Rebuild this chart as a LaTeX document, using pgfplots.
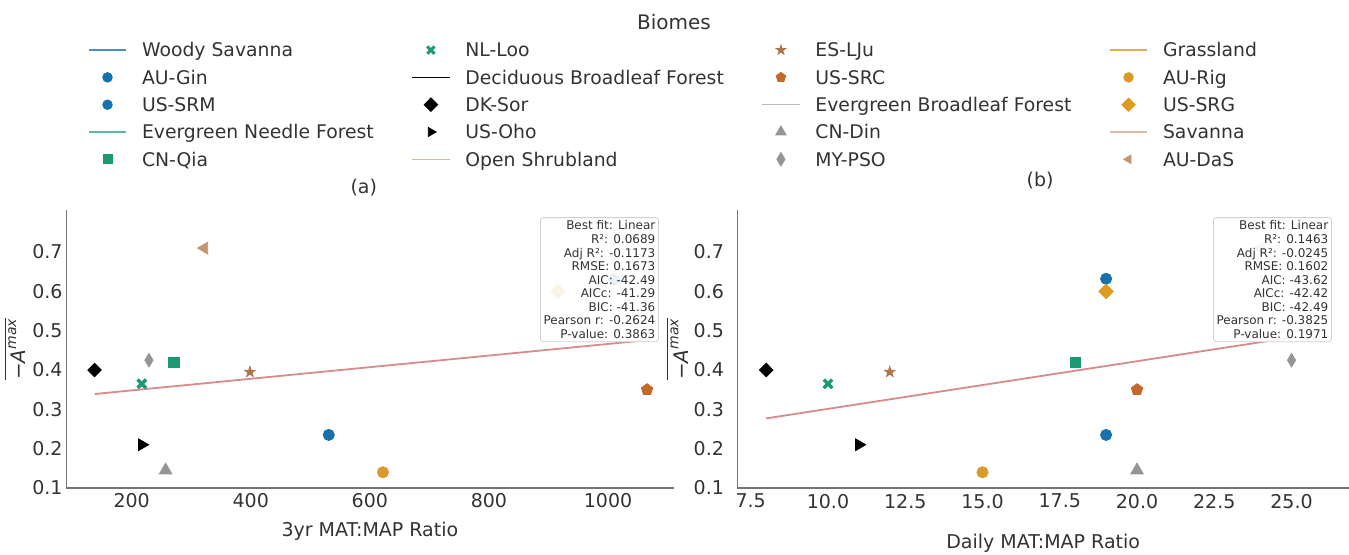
\documentclass[border=0pt]{standalone}
\usepackage{fontspec}
\setmainfont{DejaVu Sans}
\usepackage{pgfplots}
\pgfplotsset{compat=1.18}

\definecolor{cblue}{HTML}{1771AE}
\definecolor{cgreen}{HTML}{1A9A72}
\definecolor{cgray}{HTML}{959595}
\definecolor{cgold}{HTML}{D99A2B}
\definecolor{cgoldd}{HTML}{DE9A1C}
\definecolor{cbrown}{HTML}{C4692B}
\definecolor{cstar}{HTML}{B07348}
\definecolor{ctan}{HTML}{C39672}
\definecolor{fitc}{HTML}{D98A8C}
\definecolor{lblue}{HTML}{4A8FC0}
\definecolor{lgreen}{HTML}{5DB8A0}
\definecolor{lshrub}{HTML}{D6B994}
\definecolor{lgray}{HTML}{BBBBBB}
\definecolor{lgold}{HTML}{E3AE52}
\definecolor{lsav}{HTML}{DDBCA8}
\definecolor{txt}{HTML}{333333}

\pgfdeclareplotmark{fstar}{%
  \pgfpathmoveto{\pgfpointpolar{90}{\pgfplotmarksize}}%
  \pgfpathlineto{\pgfpointpolar{126}{0.382\pgfplotmarksize}}%
  \pgfpathlineto{\pgfpointpolar{162}{\pgfplotmarksize}}%
  \pgfpathlineto{\pgfpointpolar{198}{0.382\pgfplotmarksize}}%
  \pgfpathlineto{\pgfpointpolar{234}{\pgfplotmarksize}}%
  \pgfpathlineto{\pgfpointpolar{270}{0.382\pgfplotmarksize}}%
  \pgfpathlineto{\pgfpointpolar{306}{\pgfplotmarksize}}%
  \pgfpathlineto{\pgfpointpolar{342}{0.382\pgfplotmarksize}}%
  \pgfpathlineto{\pgfpointpolar{18}{\pgfplotmarksize}}%
  \pgfpathlineto{\pgfpointpolar{54}{0.382\pgfplotmarksize}}%
  \pgfpathclose\pgfusepathqfillstroke}

\tikzset{statbox/.style={anchor=north east, draw=black!18, fill=white, fill opacity=0.9, text opacity=1,
    rounded corners=1.5pt, align=right, font=\fontsize{6}{6.78}\selectfont, text=txt,
    inner sep=1.6pt, line width=0.4pt}}

\pgfplotsset{
  biome/.style={legend image code/.code={\draw[##1, line width=0.7pt] (0pt,0pt) -- (18.8pt,0pt);}},
  site/.style={legend image code/.code={\path (0pt,-1pt) (18.8pt,1pt); \draw[##1] plot coordinates {(9.4pt,0pt)};}},
  sAUGin/.style={mark=*, mark size=2.8pt, color=cblue},
  sUSSRM/.style={mark=*, mark size=2.8pt, color=cblue},
  sCNQia/.style={mark=square*, mark size=2.6pt, color=cgreen},
  sNLLoo/.style={mark=x, mark size=3.0pt, color=cgreen, mark options={line width=1.7pt}},
  sDKSor/.style={mark=diamond*, mark size=3.4pt, color=black, mark options={xscale=1.33}},
  sUSOho/.style={mark=triangle*, mark size=3.4pt, color=black, mark options={rotate=-90}},
  sESLJu/.style={mark=fstar, mark size=2.8pt, color=cstar},
  sUSSRC/.style={mark=pentagon*, mark size=3.0pt, color=cbrown},
  sCNDin/.style={mark=triangle*, mark size=3.6pt, color=cgray},
  sMYPSO/.style={mark=diamond*, mark size=3.4pt, color=cgray, mark options={xscale=0.8}},
  sAURig/.style={mark=*, mark size=2.8pt, color=cgold},
  sUSSRG/.style={mark=diamond*, mark size=3.6pt, color=cgoldd, mark options={xscale=1.33}},
  sAUDaS/.style={mark=triangle*, mark size=3.4pt, color=ctan, mark options={rotate=90}},
  panel/.style={
    scale only axis, height=139pt,
    axis x line*=bottom, axis y line*=left,
    axis line style={-, color=black!55, line width=0.6pt},
    major tick length=0pt,
    ymin=0.1, ymax=0.807,
    ytick={0.1,0.2,0.3,0.4,0.5,0.6,0.7},
    tick label style={font=\fontsize{9.5}{11}\selectfont, text=txt},
    /pgf/number format/assume math mode=true,
    xlabel style={font=\fontsize{9.5}{11}\selectfont, text=txt, anchor=center},
    ylabel style={font=\fontsize{10}{12}\selectfont, text=txt, anchor=center},
    title style={font=\fontsize{9.5}{11}\selectfont, text=txt, anchor=center},
    scaled x ticks=false,
  },
}

\begin{document}
\begin{tikzpicture}[x=1pt,y=1pt]
\path[use as bounding box] (0,0) rectangle (674.5,277.5);
\node[font=\fontsize{10}{12}\selectfont, text=txt] at (337,266.6) {Biomes};

% ---------------- panel (a)
\begin{axis}[panel,
  at={(33.1pt,33.5pt)}, anchor=south west,
  width=303.65pt,
  xmin=90, xmax=1110,
  xtick={200,400,600,800,1000},
  /pgf/number format/1000 sep={},
  yticklabel style={inner sep=0pt, anchor=east, xshift=-1.65pt},
  xticklabel style={inner sep=0pt, anchor=north, yshift=-2.35pt},
  xlabel={3yr MAT:MAP Ratio},
  xlabel style={at={(axis description cs:0.5,-0.155)}},
  ylabel={$\overline{\mbox{−}\mbox{\itshape A}^{\mbox{\fontsize{7}{8}\selectfont\itshape max}}}$},
  ylabel style={at={(axis description cs:-0.0843,0.5)}, rotate=0},
  title={(a)},
  title style={at={(axis description cs:0.49,1.036)}},
  legend columns=4, legend cell align=left,
  legend style={at={(axis description cs:0.0359,1.6243)}, anchor=north west,
    draw=none, fill=none, inner sep=0pt, outer sep=0pt, row sep=0pt,
    font=\fontsize{9.4}{11}\selectfont, text=txt,
    nodes={inner sep=0pt, text height=10.2pt, text depth=3.45pt},
    /tikz/every odd column/.append style={column sep=7.5pt},
    /tikz/every even column/.append style={column sep=18.8pt}},
  after end axis/.code={
    \node[statbox] at (rel axis cs:0.976,0.974) {Best fit: Linear\\R²: 0.0689\\Adj R²: -0.1173\\RMSE: 0.1673\\AIC: -42.49\\AICc: -41.29\\BIC: -41.36\\Pearson r: -0.2624\\P-value: 0.3863};
  },
]
% legend, row by row
\addlegendimage{biome, color=lblue}\addlegendentry{Woody Savanna}
\addlegendimage{site, sNLLoo, mark size=2.6pt, mark options={line width=1.5pt}}\addlegendentry{NL-Loo}
\addlegendimage{site, sESLJu, mark size=2.5pt}\addlegendentry{ES-LJu}
\addlegendimage{biome, color=lgold}\addlegendentry{Grassland}
\addlegendimage{site, sAUGin, mark size=2.4pt}\addlegendentry{AU-Gin}
\addlegendimage{biome, color=black}\addlegendentry{Deciduous Broadleaf Forest}
\addlegendimage{site, sUSSRC, mark size=2.5pt}\addlegendentry{US-SRC}
\addlegendimage{site, sAURig, mark size=2.4pt}\addlegendentry{AU-Rig}
\addlegendimage{site, sUSSRM, mark size=2.4pt}\addlegendentry{US-SRM}
\addlegendimage{site, sDKSor}\addlegendentry{DK-Sor}
\addlegendimage{biome, color=lgray}\addlegendentry{Evergreen Broadleaf Forest}
\addlegendimage{site, sUSSRG, mark size=3.3pt}\addlegendentry{US-SRG}
\addlegendimage{biome, color=lgreen}\addlegendentry{Evergreen Needle Forest}
\addlegendimage{site, sUSOho, mark size=2.6pt}\addlegendentry{US-Oho}
\addlegendimage{site, sCNDin, mark size=3pt}\addlegendentry{CN-Din}
\addlegendimage{biome, color=lsav}\addlegendentry{Savanna}
\addlegendimage{site, sCNQia, mark size=2.3pt}\addlegendentry{CN-Qia}
\addlegendimage{biome, color=lshrub}\addlegendentry{Open Shrubland}
\addlegendimage{site, sMYPSO}\addlegendentry{MY-PSO}
\addlegendimage{site, sAUDaS, mark size=2.5pt}\addlegendentry{AU-DaS}
% data
\addplot[only marks, sUSSRM, forget plot] coordinates {(1010,0.63)};
\addplot[only marks, sUSSRG, forget plot] coordinates {(916,0.60)};
\addplot[color=fitc, line width=0.9pt, forget plot] coordinates {(137.7,0.339) (1065.6,0.476)};
\addplot[only marks, sAUGin, forget plot] coordinates {(531,0.235)};
\addplot[only marks, sCNQia, forget plot] coordinates {(271,0.42)};
\addplot[only marks, sNLLoo, forget plot] coordinates {(217,0.365)};
\addplot[only marks, sDKSor, forget plot] coordinates {(137.7,0.40)};
\addplot[only marks, sUSOho, forget plot] coordinates {(217,0.21)};
\addplot[only marks, sESLJu, forget plot] coordinates {(398.6,0.395)};
\addplot[only marks, sUSSRC, forget plot] coordinates {(1065.6,0.35)};
\addplot[only marks, sCNDin, forget plot] coordinates {(257,0.145)};
\addplot[only marks, sMYPSO, forget plot] coordinates {(229,0.425)};
\addplot[only marks, sAURig, forget plot] coordinates {(622,0.14)};
\addplot[only marks, sAUDaS, forget plot] coordinates {(322,0.71)};
\end{axis}

% ---------------- panel (b)
\begin{axis}[panel,
  at={(368.65pt,33.5pt)}, anchor=south west,
  width=305.85pt,
  xmin=7.066, xmax=26.86,
  xtick={7.5,10,12.5,15,17.5,20,22.5,25},
  xticklabel style={inner sep=0pt, anchor=north, yshift=-2.85pt,
    /pgf/number format/.cd, fixed, fixed zerofill, precision=1},
  yticklabel style={inner sep=0pt, anchor=east, xshift=-6.5pt},
  xlabel={Daily MAT:MAP Ratio},
  xlabel style={at={(axis description cs:0.5,-0.198)}},
  ylabel={$\overline{\mbox{−}\mbox{\itshape A}^{\mbox{\fontsize{7}{8}\selectfont\itshape max}}}$},
  ylabel style={at={(axis description cs:-0.098,0.5)}, rotate=0},
  title={(b)},
  title style={at={(axis description cs:0.495,1.062)}},
  after end axis/.code={
    \node[statbox] at (rel axis cs:0.972,0.974) {Best fit: Linear\\R²: 0.1463\\Adj R²: -0.0245\\RMSE: 0.1602\\AIC: -43.62\\AICc: -42.42\\BIC: -42.49\\Pearson r: -0.3825\\P-value: 0.1971};
  },
]
\addplot[only marks, sAUDaS] coordinates {(24,0.71)};
\addplot[color=fitc, line width=0.9pt] coordinates {(8,0.277) (25,0.483)};
\addplot[only marks, sAUGin] coordinates {(19,0.235)};
\addplot[only marks, sUSSRM] coordinates {(19,0.632)};
\addplot[only marks, sUSSRG] coordinates {(19,0.60)};
\addplot[only marks, sCNQia] coordinates {(18,0.42)};
\addplot[only marks, sNLLoo] coordinates {(10,0.365)};
\addplot[only marks, sDKSor] coordinates {(8,0.40)};
\addplot[only marks, sUSOho] coordinates {(11,0.21)};
\addplot[only marks, sESLJu] coordinates {(12,0.395)};
\addplot[only marks, sUSSRC] coordinates {(20,0.35)};
\addplot[only marks, sCNDin] coordinates {(20,0.145)};
\addplot[only marks, sMYPSO] coordinates {(25,0.425)};
\addplot[only marks, sAURig] coordinates {(15,0.14)};
\end{axis}
\end{tikzpicture}
\end{document}
